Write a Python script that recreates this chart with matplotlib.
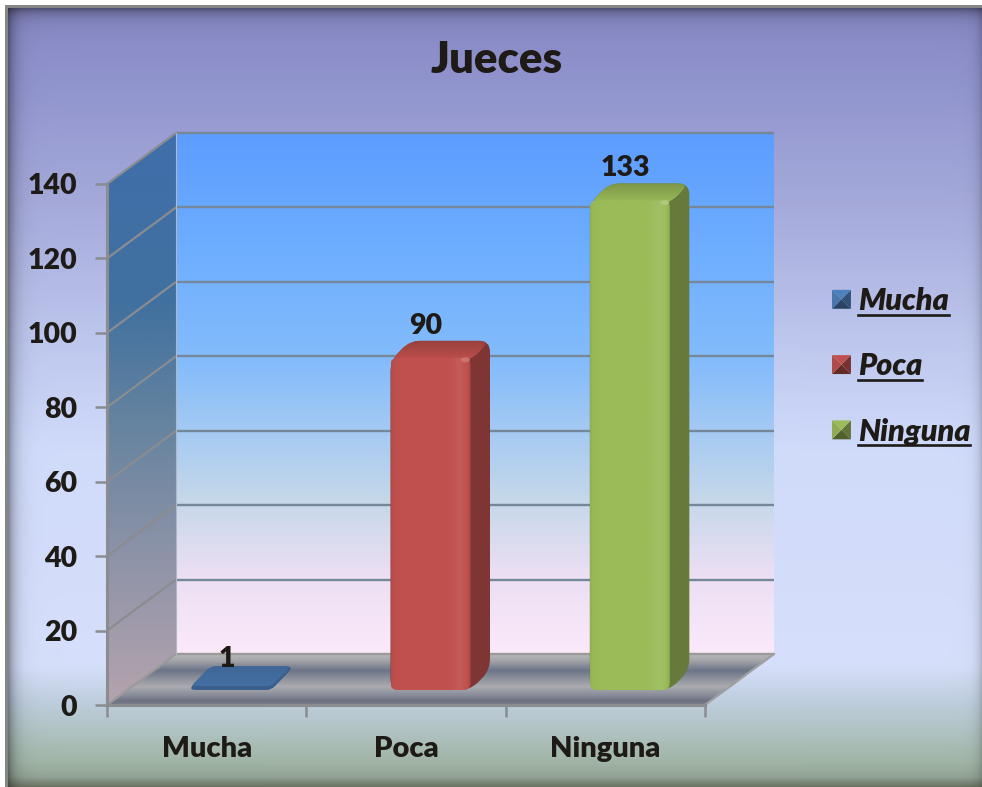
import numpy as np
import matplotlib
matplotlib.use("Agg")
import matplotlib.pyplot as plt
from matplotlib.path import Path
from matplotlib.patches import PathPatch, Polygon, Patch, Ellipse
from matplotlib.legend_handler import HandlerBase
from matplotlib.lines import Line2D
from matplotlib.colors import to_rgb

# ---- data ----
title = "Jueces"
categories = ["Mucha", "Poca", "Ninguna"]
values = [1, 90, 133]
y_ticks = [0, 20, 40, 60, 80, 100, 120, 140]
bar_colors = ["#4f81bd", "#c0504d", "#9bbb59"]

W, H = 982, 787
plt.rcParams["font.family"] = ["Lato", "Open Sans", "DejaVu Sans"]
WEIGHT = 800
INK = "#1e1a16"
GRID = "#75889a"
AXC = "#8a8c90"

fig = plt.figure(figsize=(W / 100, H / 100), dpi=100, facecolor="white")


def stops(t, pts):
    """Interpolate colour stops [(pos, hex), ...] along t."""
    pos = [p for p, _ in pts]
    cols = np.array([to_rgb(c) for _, c in pts])
    return np.stack([np.interp(t, pos, cols[:, k]) for k in range(3)], axis=-1)


# ---- figure background ----
bg = fig.add_axes([0, 0, 1, 1], zorder=0)
bg.set_axis_off()
yy = np.arange(H, dtype=float)
xx = np.arange(W, dtype=float)
col = stops(yy, [(0, "#8586c2"), (60, "#8d90cb"), (200, "#a4a9da"), (330, "#bcc5ec"),
                 (450, "#d0dbfb"), (665, "#d6dffa"), (700, "#bfcedf"), (730, "#b0c3c3"),
                 (762, "#a0b4a5"), (776, "#92a395"), (787, "#66705f")])
img = np.repeat(col[:, None, :], W, axis=1)
X, Y = np.meshgrid(xx, yy)
shade = (1 - 0.40 * np.exp(-np.clip(X - 8, 0, None) / 7.0))
shade *= (1 - 0.40 * np.exp(-np.clip(Y - 8, 0, None) / 7.0))
shade *= (1 - 0.18 * np.exp(-np.clip(W - 1 - X, 0, None) / 5.0))
img = img * shade[..., None]
img[((X < 8) | (Y < 8))] = to_rgb("#868686")
img[(X < 5) | (Y < 5)] = 1.0
bg.imshow(img, extent=(0, W, H, 0), aspect="auto", interpolation="bilinear")

# ---- main axes: exactly the front plane of the 3-D box ----
L, R, B, T = 107, 705, 705, 184
ax = fig.add_axes([L / W, 1 - B / H, (R - L) / W, (B - T) / H], zorder=1)
ax.patch.set_alpha(0)
n = len(categories)
ymax = y_ticks[-1]
ax.set_xlim(0, n)
ax.set_ylim(0, ymax)
SX = (R - L) / n       # px per category
SY = (B - T) / ymax    # px per value
DX, DY = 69 / SX, 51 / SY  # depth of the box in data units


def P(x, v, d=0.0):
    return (x + d * DX, v + d * DY)


def rounded(points, r):
    """Closed path through points with corners rounded by r pixels."""
    pts = np.array(points, float) * [SX, SY]
    verts, codes = [], []
    m = len(pts)
    for k in range(m):
        p, a, b = pts[k], pts[k - 1], pts[(k + 1) % m]
        ua = (a - p) / np.linalg.norm(a - p)
        ub = (b - p) / np.linalg.norm(b - p)
        ra = min(r, np.linalg.norm(a - p) / 2)
        rb = min(r, np.linalg.norm(b - p) / 2)
        verts += [p + ua * ra, p, p + ub * rb]
        codes += [Path.MOVETO if k == 0 else Path.LINETO, Path.CURVE3, Path.CURVE3]
    verts.append(verts[0])
    codes.append(Path.CLOSEPOLY)
    return Path(np.array(verts) / [SX, SY], codes)


def fill(path, rgb, box, zorder):
    """Show an image inside a path (in data coordinates)."""
    im = ax.imshow(rgb, extent=box, aspect="auto", origin="upper",
                   interpolation="bilinear", zorder=zorder)
    im.set_clip_box(fig.bbox)
    im.set_clip_path(path, ax.transData)
    return im


def vertical(pts_px, n_px=300):
    t = np.linspace(pts_px[0][0], pts_px[-1][0], n_px)
    return stops(t, pts_px)[:, None, :]


# back wall
wall = Path([P(0, 0, 1), P(n, 0, 1), P(n, ymax, 1), P(0, ymax, 1), P(0, 0, 1)], closed=True)
x0w, v0w = P(0, 0, 1)
x1w, v1w = P(n, ymax, 1)
fill(wall, vertical([(0, "#5c9dff"), (0.25, "#70b0ff"), (0.45, "#86bdfb"), (0.7, "#c4d7ea"),
                     (0.85, "#ecdff3"), (1, "#fbe9fa")]),
     (x0w, x1w, v0w, v1w), 1)

# left wall
side = Path([P(0, 0, 0), P(0, 0, 1), P(0, ymax, 1), P(0, ymax, 0), P(0, 0, 0)], closed=True)
fill(side, vertical([(0, "#3f6eab"), (0.3, "#41719f"), (0.5, "#64839f"), (0.75, "#8f94a8"),
                     (1, "#b5a3ae")]),
     (0, DX, 0, ymax + DY), 1.1)

# floor
floor = Path([P(0, 0, 0), P(n, 0, 0), P(n, 0, 1), P(0, 0, 1), P(0, 0, 0)], closed=True)
fill(floor, vertical([(0, "#b8b8b8"), (0.12, "#a6a7aa"), (0.32, "#6c7488"), (0.48, "#8d909b"),
                      (0.64, "#ababb0"), (0.8, "#8b8e9a"), (0.92, "#6c7282"), (1, "#7c808c")]),
     (0, n + DX, 0, DY), 1.2)

# grid on the walls
for v in y_ticks:
    ax.plot(*zip(P(0, v, 0), P(0, v, 1)), color=AXC if v else "#9a9a9a", lw=1.6,
            clip_on=False, zorder=1.5, solid_capstyle="butt")
    ax.plot(*zip(P(0, v, 1), P(n, v, 1)), color=GRID if v else "#9a9a9a", lw=1.7,
            clip_on=False, zorder=1.5, solid_capstyle="butt")
ax.plot(*zip(P(n, 0, 0), P(n, 0, 1)), color="#a0a0a0", lw=1.6, clip_on=False, zorder=1.5)
ax.plot(*zip(P(0, 0, 1), P(0, ymax, 1)), color="#b0b8c8", lw=0.8, clip_on=False, zorder=1.5)

# ---- bars ----
BAR_W = 80 / SX
BAR_SHIFT = 24.5 / SX           # front face sits inside the box
BAR_DX, BAR_DY = 19.5 / SX, 20 / SY
BASE = 15 / SY
TOP_K = 0.983


def shade_rgb(c, f):
    c = np.array(to_rgb(c))
    return tuple(np.clip(c * f if f <= 1 else c + (1 - c) * (f - 1), 0, 1))


for i, (v, c) in enumerate(zip(values, bar_colors)):
    z = 2 + i * 0.1
    x0 = i + 0.5 - BAR_W / 2 + BAR_SHIFT
    x1 = x0 + BAR_W
    top = BASE + v * TOP_K
    small = v < 5
    dark = shade_rgb(c, 0.74 if small else 0.66)
    sil = [(x0, BASE), (x1, BASE), (x1 + BAR_DX, BASE + BAR_DY), (x1 + BAR_DX, top + BAR_DY),
           (x0 + BAR_DX, top + BAR_DY), (x0, top)]
    ax.add_patch(PathPatch(rounded(sil, 5 if small else 11), fc=dark, ec="none", clip_on=False, zorder=z))
    # top face: dark at the back, melting into the front face
    tp = rounded([(x0, top), (x1, top), (x1 + BAR_DX, top + BAR_DY), (x0 + BAR_DX, top + BAR_DY)],
                 5 if small else 11)
    t = np.linspace(0, 1, 60)
    back, front = (0.8, 0.86) if small else (0.8, 1.0)
    top_img = np.array([np.array(shade_rgb(c, back)) * (1 - s) + np.array(shade_rgb(c, front)) * s
                        for s in t])[:, None, :]
    fill(tp, top_img, (x0, x1 + BAR_DX, top, top + BAR_DY), z + 0.01)
    # front face with a bevel
    if not small:
        fr = rounded([(x0, BASE), (x1, BASE), (x1, top + 3 / SY), (x0, top + 3 / SY)], 7)
        s = np.linspace(0, 1, 120)
        prof = np.interp(s, [0, 0.03, 0.12, 0.72, 0.86, 0.95, 1], [0.94, 0.98, 1.0, 1.0, 1.07, 1.0, 0.9])
        fimg = np.array([shade_rgb(c, f) for f in prof])[None, :, :]
        fill(fr, fimg, (x0, x1, BASE, top + 3 / SY), z + 0.02)
        ax.add_patch(Ellipse((x1 - 5 / SX, top + 1 / SY), 9 / SX, 5 / SY, fc=shade_rgb(c, 1.25),
                             ec="none", alpha=0.8, clip_on=False, zorder=z + 0.03))
    # data label
    ax.annotate(f"{v}", xy=(x0 + BAR_W / 2 + BAR_DX, top + BAR_DY),
                xytext=(-17.5, -4 if small else 1.5),
                textcoords="offset points", ha="center", va="bottom", fontsize=20.5,
                fontweight=WEIGHT, color=INK, annotation_clip=False, zorder=6)

# ---- axes, ticks, labels ----
for s in ("top", "right"):
    ax.spines[s].set_visible(False)
for s in ("left", "bottom"):
    ax.spines[s].set_color(AXC)
    ax.spines[s].set_linewidth(2.2)
    ax.spines[s].set_zorder(3)
ax.set_yticks(y_ticks)
ax.set_yticklabels([str(v) for v in y_ticks], fontsize=20.5, fontweight=WEIGHT, color=INK)
ax.tick_params(axis="y", length=8.6, width=1.8, color=AXC, pad=13)
ax.set_xticks(np.arange(n + 1))
ax.set_xticklabels([])
ax.tick_params(axis="x", which="major", length=8.6, width=1.8, color=AXC)
ax.set_xticks(np.arange(n) + 0.5, minor=True)
ax.set_xticklabels(categories, minor=True, fontsize=21, fontweight=WEIGHT, color=INK)
ax.tick_params(axis="x", which="minor", length=0, pad=22)

fig.text(497 / W, 1 - 60 / H, title, ha="center", va="center", fontsize=31.5, fontweight=WEIGHT, color=INK)


# ---- legend with bevelled swatches and underlined text ----
class Bevel(HandlerBase):
    def create_artists(self, legend, orig, xd, yd, width, height, fontsize, trans):
        c = orig.get_facecolor()
        s = width
        x, y = -xd + (width - s) / 2, -yd + (height - s) / 2
        A, Bb, C, D = (x, y), (x + s, y), (x + s, y + s), (x, y + s)
        M = (x + s / 2, y + s / 2)
        tris = [((A, Bb, M), 0.52), ((Bb, C, M), 0.62), ((C, D, M), 1.0), ((D, A, M), 0.92)]
        return [Polygon(t, closed=True, fc=shade_rgb(c[:3], f), ec="none", transform=trans) for t, f in tris]


handles = [Patch(facecolor=c) for c in bar_colors]
leg = fig.legend(handles, categories, handler_map={Patch: Bevel()}, frameon=False,
                 loc="upper left", bbox_to_anchor=(832 / W, 1 - 287 / H), borderaxespad=0,
                 borderpad=0, handlelength=0.62, handleheight=0.7, handletextpad=0.23,
                 labelspacing=1.22,
                 prop={"size": 22, "weight": WEIGHT, "style": "italic"})
for t in leg.get_texts():
    t.set_color(INK)

fig.canvas.draw()
rend = fig.canvas.get_renderer()
for t in leg.get_texts():
    e = t.get_window_extent(rend)
    _, _, d = rend.get_text_width_height_descent("lp", t.get_fontproperties(), False)
    yb = e.y0 + d - 4.5
    fig.add_artist(Line2D([e.x0 / W, e.x1 / W], [yb / H, yb / H], color=INK, lw=1.9,
                          transform=fig.transFigure))

fig.savefig("out.png", dpi=100)
